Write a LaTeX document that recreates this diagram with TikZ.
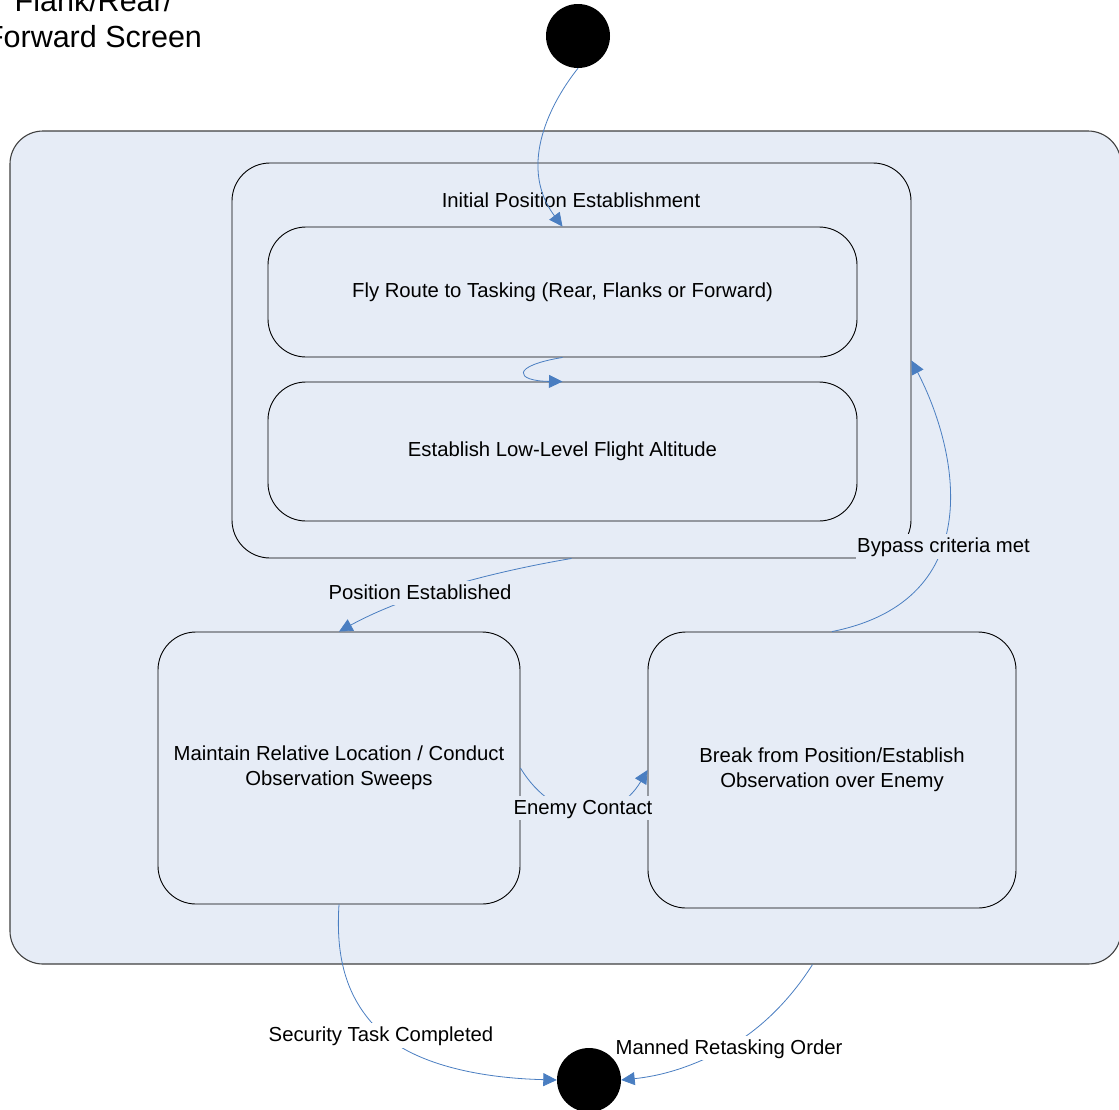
\documentclass[tikz,border=0pt]{standalone}
\usepackage{fontspec}
\setmainfont{Liberation Sans}
\usepackage{tikz}
\usetikzlibrary{calc}
\usetikzlibrary{arrows.meta}
\tikzset{>={Triangle[width=13pt,length=13.5pt]}}
\definecolor{stfill}{RGB}{230,236,246}
\definecolor{flowblue}{RGB}{74,126,193}

\begin{document}
\begin{tikzpicture}[
    x = 1pt, y = -1pt,
    txt/.style = {inner sep=0pt, align=center, font=\fontsize{20.3}{25}\selectfont},
    state/.style 2 args = {txt, draw, line width=0.9pt, rounded corners=38pt,
        fill=stfill, minimum width=#1, minimum height=#2},
    dot/.style = {circle, fill=black, minimum size=64pt, inner sep=0pt},
    flow/.style = {->, draw=flowblue, line width=0.8pt},
    lbl/.style = {txt, fill=#1, inner xsep=1.5pt, inner ysep=3.5pt,
        text height=15pt, text depth=2.5pt},
    lbl/.default = stfill
  ]
  \useasboundingbox (0,0) rectangle (1119,1109);

  \node[align=center, inner sep=0pt, font=\fontsize{30.5}{36}\selectfont]
    (title) at (93.5,19) {Flank/Rear/\\Forward Screen};

  \node[state={1111}{833}, rounded corners=33pt, draw=black!75, line width=1.1pt]
    (screen) at (565.5,547.5) {};
  \node[state={679}{395}] (init) at (571.5,360.5) {};
  \node[txt] (inittxt) at (571,200.5) {Initial Position Establishment};
  \node[state={589}{130}] (fly) at (562.5,292)
    {Fly Route to Tasking (Rear, Flanks or Forward)};
  \node[state={589}{139}] (est) at (562.5,451.5)
    {Establish Low-Level Flight Altitude};
  \node[state={362}{272}] (mnt) at (339,768)
    {Maintain Relative Location / Conduct\\Observation Sweeps};
  \node[state={368}{276}] (brk) at (832,770)
    {Break from Position/Establish\\Observation over Enemy};

  \node[dot] (start) at (578,36) {};
  \node[dot] (end) at (589,1080) {};

  % transitions
  \draw[flow] (start.south) .. controls (545,110) and (520,170) .. (fly.north);
  \draw[flow] (fly.south) .. controls (510,366) and (515,381) .. (est.north);
  \draw[flow] (init.south) .. controls (480,574) and (400,598) .. (mnt.north);
  \draw[flow] (brk.north) .. controls (990,600) and (958,450) .. (init.east);
  \draw[flow] (mnt.east) .. controls (555,825) and (615,825) .. (brk.west);
  \draw[flow] (mnt.south) .. controls (335,965) and (350,1005) .. (385,1036)
    .. controls (420,1065) and (480,1078) .. (end.west);
  \draw[flow] ([xshift=247pt]screen.south) .. controls (790,1000) and (760,1030) .. (727,1048)
    .. controls (690,1068) and (660,1076) .. (end.east);

  \node[lbl] (lpos) at (420,593) {Position Established};
  \node[lbl] (lbyp) at (943.5,546.5) {Bypass criteria met};
  \node[lbl] (lene) at (583,807.8) {Enemy Contact};
  \node[lbl=white] (lsec) at (381,1035.4) {Security Task Completed};
  \node[lbl=white] (lman) at (729,1047.8) {Manned Retasking Order};
\end{tikzpicture}
\end{document}
